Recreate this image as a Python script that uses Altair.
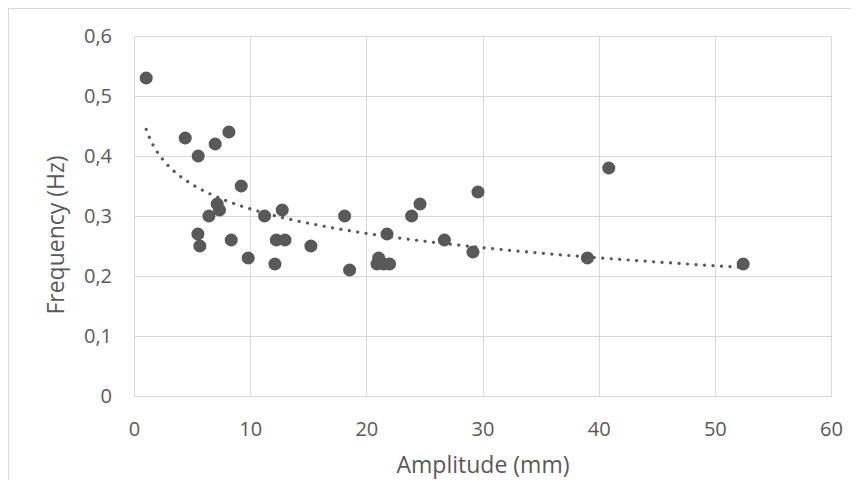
import altair as alt
import pandas as pd

amplitude = [1.05, 4.41, 5.53, 6.99, 8.17, 9.23, 7.16, 7.36, 6.45, 5.50, 5.67, 8.37,
             9.83, 11.24, 12.76, 12.25, 13.00, 12.13, 15.23, 18.13, 18.56, 21.06,
             20.92, 21.50, 22.00, 21.78, 23.90, 24.62, 26.72, 29.18, 29.61, 39.03,
             40.87, 52.44]
frequency = [0.53, 0.43, 0.40, 0.42, 0.44, 0.35, 0.32, 0.31, 0.30, 0.27, 0.25, 0.26,
             0.23, 0.30, 0.31, 0.26, 0.26, 0.22, 0.25, 0.30, 0.21, 0.23,
             0.22, 0.22, 0.22, 0.27, 0.30, 0.32, 0.26, 0.24, 0.34, 0.23,
             0.38, 0.22]
x_ticks = [0, 10, 20, 30, 40, 50, 60]
y_ticks = [0, 0.1, 0.2, 0.3, 0.4, 0.5, 0.6]

df = pd.DataFrame({"Amplitude": amplitude, "Frequency": frequency})

GRID = "#d9d9d9"
INK = "#595959"
FONT = "Open Sans"

x_enc = alt.X(
    "Amplitude:Q",
    scale=alt.Scale(domain=[0, 60], nice=False),
    axis=alt.Axis(
        values=x_ticks, title="Amplitude (mm)", grid=True, gridColor=GRID,
        domainColor=GRID, ticks=False, tickSize=0, labelPadding=39,
        labelBaseline="alphabetic", labelFontSize=20, labelColor=INK, labelFont=FONT,
        titleFontSize=23, titleColor=INK, titleFont=FONT, titleFontWeight="normal",
        titleBaseline="alphabetic", titleY=76.5, labelFlush=False,
    ),
)
y_enc = alt.Y(
    "Frequency:Q",
    scale=alt.Scale(domain=[0, 0.6], nice=False),
    axis=alt.Axis(
        values=y_ticks, title="Frequency (Hz)", grid=True, gridColor=GRID,
        domainColor=GRID, ticks=False, tickSize=0, labelPadding=22.5,
        labelBaseline="middle", labelFontSize=20, labelColor=INK, labelFont=FONT,
        labelExpr="datum.value == 0 ? '0' : replace(format(datum.value, '.1f'), '.', ',')",
        titleFontSize=23, titleColor=INK, titleFont=FONT, titleFontWeight="normal",
        titleBaseline="alphabetic", titleAngle=-90, titleAlign="center",
        titleX=-71, titleY=198.5, labelFlush=False,
    ),
)

border = alt.Chart(pd.DataFrame({"k": [0]})).mark_rect(
    fill=None, stroke=GRID, strokeWidth=1
).encode(
    x=alt.value(-125.5), x2=alt.value(1000), y=alt.value(-27.5), y2=alt.value(700)
)

points = alt.Chart(df).mark_point(
    filled=True, shape="circle", size=170, color=INK, opacity=1
).encode(x=x_enc, y=y_enc)

trend = alt.Chart(df).transform_regression(
    "Amplitude", "Frequency", method="log"
).mark_line(
    color=INK, strokeWidth=3.2, strokeDash=[0.1, 8.4], strokeCap="round"
).encode(x="Amplitude:Q", y="Frequency:Q")

chart = alt.layer(border, points, trend).properties(
    width=697, height=360,
    autosize=alt.AutoSizeParams(type="none"),
    padding={"left": 126, "top": 28, "right": 20, "bottom": 84},
).configure_view(strokeWidth=0)

chart.save("out.html", embed_options={"renderer": "svg", "actions": False})
